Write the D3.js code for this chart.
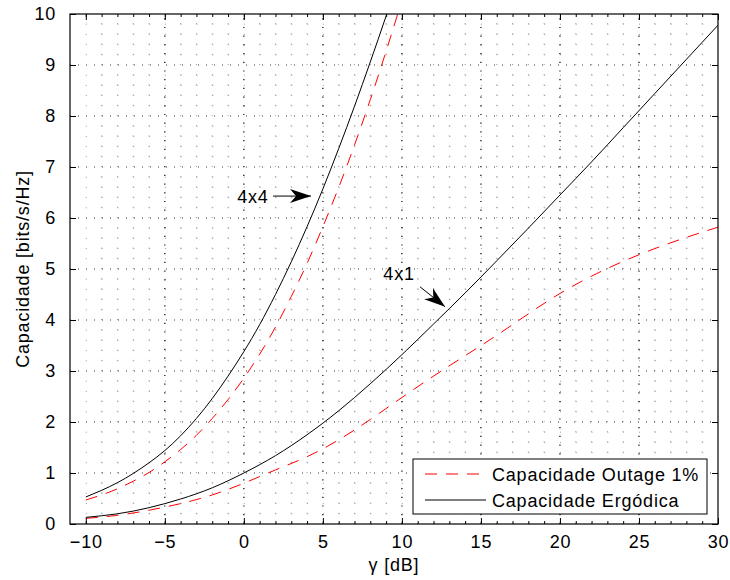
<!DOCTYPE html>
<html>
<head>
<meta charset="utf-8">
<script src="https://cdn.jsdelivr.net/npm/d3@7/dist/d3.min.js"></script>
<style>
  body { margin: 0; background: #fff; }
  text { font-family: "Liberation Sans", Arial, sans-serif; letter-spacing: 0.8px; }
</style>
</head>
<body>
<div id="chart"></div>
<script>
// gamma [dB] for the 4x4 curves (1 dB steps)
var snr4x4 = [-10,-9,-8,-7,-6,-5,-4,-3,-2,-1,0,1,2,3,4,5,6,7,8,9,10];
var erg4x4 = [0.53,0.66,0.81,0.99,1.2,1.44,1.73,2.07,2.46,2.9,3.38,3.91,4.5,5.14,5.83,6.57,7.36,8.19,9.06,9.96,10.89];
var out4x4 = [0.47,0.57,0.69,0.84,1.01,1.22,1.46,1.74,2.07,2.44,2.86,3.33,3.86,4.46,5.11,5.83,6.6,7.43,8.32,9.27,10.27];

// gamma [dB] for the 4x1 curves (2 dB steps)
var snr4x1 = [-10,-8,-6,-4,-2,0,2,4,6,8,10,12,14,16,18,20,22,24,26,28,30];
var erg4x1 = [0.13,0.2,0.32,0.49,0.71,1.0,1.34,1.75,2.22,2.75,3.32,3.92,4.53,5.16,5.8,6.45,7.1,7.77,8.44,9.11,9.78];
var out4x1 = [0.11,0.17,0.27,0.4,0.57,0.8,1.06,1.32,1.65,2.05,2.48,2.9,3.3,3.7,4.12,4.52,4.86,5.15,5.4,5.62,5.82];

var xTicks = [-10,-5,0,5,10,15,20,25,30];
var yTicks = [0,1,2,3,4,5,6,7,8,9,10];
var legendLabels = ["Capacidade Outage 1%", "Capacidade Ergódica"];

// annotations: [label, textX, textY, tailX, tailY, tipX, tipY] in data units
var notes = [
  ["4x4", 0.57, 6.29, 1.85, 6.43, 4.25, 6.43],
  ["4x1", 9.82, 4.78, 11.15, 4.65, 12.73, 4.26]
];

(function(){
  var width = 730, height = 580;
  var left = 70, right = 718, top = 14, bottom = 524;

  var svg = d3.select("#chart").append("svg")
    .attr("width", width).attr("height", height);

  svg.append("rect").attr("width", width).attr("height", height).attr("fill", "#fff");

  var x = d3.scaleLinear().domain([-11, 30]).range([left, right]);
  var y = d3.scaleLinear().domain([0, 10]).range([bottom, top]);

  // grid: minor
  var grid = svg.append("g");
  d3.range(-10, 30, 1).filter(function(d){ return d % 5 !== 0; }).forEach(function(d){
    grid.append("line")
      .attr("x1", x(d)).attr("x2", x(d)).attr("y1", bottom).attr("y2", top)
      .attr("stroke", "#9a9a9a").attr("stroke-width", 1)
      .attr("stroke-dasharray", "1," + (y(0) - y(0.2) - 1));
  });
  d3.range(1, 50, 1).map(function(i){ return i * 0.2; })
    .filter(function(d){ return Math.abs(d - Math.round(d)) > 0.01; })
    .forEach(function(d){
      grid.append("line")
        .attr("x1", x(-10)).attr("x2", right).attr("y1", y(d)).attr("y2", y(d))
        .attr("stroke", "#9a9a9a").attr("stroke-width", 1)
        .attr("stroke-dasharray", "1," + (x(1) - x(0) - 1));
    });
  // grid: major
  xTicks.slice(1, -1).forEach(function(d){
    grid.append("line")
      .attr("x1", x(d)).attr("x2", x(d)).attr("y1", bottom).attr("y2", top)
      .attr("stroke", "#000").attr("stroke-width", 1.2)
      .attr("stroke-dasharray", "1.2,7.5");
  });
  yTicks.slice(1, -1).forEach(function(d){
    grid.append("line")
      .attr("x1", left).attr("x2", right).attr("y1", y(d)).attr("y2", y(d))
      .attr("stroke", "#333").attr("stroke-width", 1)
      .attr("stroke-dasharray", "1,7");
  });

  // curves
  svg.append("clipPath").attr("id", "clip")
    .append("rect").attr("x", left).attr("y", top)
    .attr("width", right - left).attr("height", bottom - top);

  var line = d3.line()
    .x(function(d){ return x(d[0]); })
    .y(function(d){ return y(d[1]); })
    .curve(d3.curveNatural);

  var curves = [
    { xs: snr4x4, ys: out4x4, dash: true },
    { xs: snr4x4, ys: erg4x4, dash: false },
    { xs: snr4x1, ys: out4x1, dash: true },
    { xs: snr4x1, ys: erg4x1, dash: false }
  ];
  var plot = svg.append("g").attr("clip-path", "url(#clip)");
  curves.forEach(function(c){
    plot.append("path")
      .datum(c.xs.map(function(v, i){ return [v, c.ys[i]]; }))
      .attr("d", line)
      .attr("fill", "none")
      .attr("stroke", c.dash ? "#ff0000" : "#000")
      .attr("stroke-width", 1)
      .attr("stroke-dasharray", c.dash ? "12,9" : null);
  });

  // axes (box with inward ticks)
  var fontSize = "18px";
  var xb = svg.append("g").attr("transform", "translate(0," + bottom + ")")
    .call(d3.axisBottom(x).tickValues(xTicks).tickSize(-6).tickPadding(11)
      .tickFormat(function(d){ return d < 0 ? "\u2212" + Math.abs(d) : d; }));
  var xt = svg.append("g").attr("transform", "translate(0," + top + ")")
    .call(d3.axisTop(x).tickValues(xTicks).tickSize(-6).tickFormat(""));
  var yl = svg.append("g").attr("transform", "translate(" + left + ",0)")
    .call(d3.axisLeft(y).tickValues(yTicks).tickSize(-6).tickPadding(14));
  var yr = svg.append("g").attr("transform", "translate(" + right + ",0)")
    .call(d3.axisRight(y).tickValues(yTicks).tickSize(-6).tickFormat(""));
  var xbm = svg.append("g").attr("transform", "translate(0," + bottom + ")")
    .call(d3.axisBottom(x).tickValues(d3.range(-10, 31, 1)).tickSize(-3).tickFormat(""));
  var xtm = svg.append("g").attr("transform", "translate(0," + top + ")")
    .call(d3.axisTop(x).tickValues(d3.range(-10, 31, 1)).tickSize(-3).tickFormat(""));

  [xb, xt, yl, yr, xbm, xtm].forEach(function(g){
    g.select(".domain").remove();
    g.selectAll("line").attr("stroke", "#000");
    g.selectAll("text").attr("fill", "#000").style("font-size", fontSize)
      .style("font-family", "'Liberation Sans', Arial, sans-serif");
  });

  svg.append("rect")
    .attr("x", left).attr("y", top)
    .attr("width", right - left).attr("height", bottom - top)
    .attr("fill", "none").attr("stroke", "#000").attr("stroke-width", 1.2);

  // axis labels
  svg.append("text")
    .attr("x", (left + right) / 2).attr("y", 571)
    .attr("text-anchor", "middle").style("font-size", fontSize)
    .text("\u03b3 [dB]");
  svg.append("text")
    .attr("transform", "translate(29," + ((top + bottom) / 2) + ") rotate(-90)")
    .attr("text-anchor", "middle").style("font-size", fontSize)
    .text("Capacidade [bits/s/Hz]");

  // annotations with arrows
  function arrowHead(x0, y0, x1, y1){
    var ang = Math.atan2(y1 - y0, x1 - x0);
    var L = 21, W = 7, notch = 15;
    var c = Math.cos(ang), s = Math.sin(ang);
    function pt(a, b){ return [x1 - a * c - b * s, y1 - a * s + b * c]; }
    var p = [[x1, y1], pt(L, W), pt(notch, 0), pt(L, -W)];
    return "M" + p.map(function(q){ return q[0] + "," + q[1]; }).join("L") + "Z";
  }
  notes.forEach(function(n){
    svg.append("text")
      .attr("x", x(n[1])).attr("y", y(n[2]))
      .attr("text-anchor", "middle").style("font-size", fontSize)
      .text(n[0]);
    var tx = x(n[3]), ty = y(n[4]), hx = x(n[5]), hy = y(n[6]);
    svg.append("line")
      .attr("x1", tx).attr("y1", ty).attr("x2", hx).attr("y2", hy)
      .attr("stroke", "#000").attr("stroke-width", 1);
    svg.append("path").attr("d", arrowHead(tx, ty, hx, hy)).attr("fill", "#000");
  });

  // legend
  var lg = svg.append("g");
  lg.append("rect")
    .attr("x", 413).attr("y", 459).attr("width", 294).attr("height", 55)
    .attr("fill", "#fff").attr("stroke", "#000").attr("stroke-width", 1);
  legendLabels.forEach(function(lab, i){
    var yy = 474 + i * 26;
    lg.append("line")
      .attr("x1", 425).attr("x2", 486).attr("y1", yy).attr("y2", yy)
      .attr("stroke", i === 0 ? "#ff0000" : "#000").attr("stroke-width", 1)
      .attr("stroke-dasharray", i === 0 ? "12,9" : null);
    lg.append("text")
      .attr("x", 492).attr("y", yy + 6.5)
      .style("font-size", fontSize)
      .text(lab);
  });
})();
</script>
</body>
</html>
